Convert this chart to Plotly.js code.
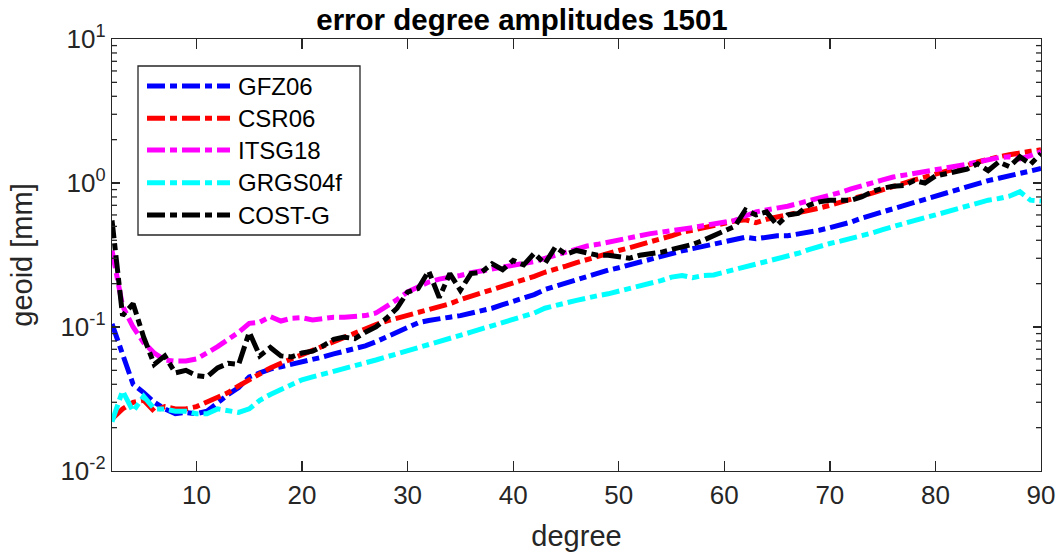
<!DOCTYPE html>
<html>
<head>
<meta charset="utf-8">
<script src="https://cdn.plot.ly/plotly-3.0.1.min.js"></script>
<style>html,body{margin:0;padding:0;background:#fff;}#chart{width:1056px;height:556px;}</style>
</head>
<body>
<div id="chart"></div>
<script>
const degrees = [2,3,4,5,6,7,8,9,10,11,12,13,14,15,16,17,18,19,20,21,22,23,24,25,26,27,28,29,30,31,32,33,34,35,36,37,38,39,40,41,42,43,44,45,46,47,48,49,50,51,52,53,54,55,56,57,58,59,60,61,62,63,64,65,66,67,68,69,70,71,72,73,74,75,76,77,78,79,80,81,82,83,84,85,86,87,88,89,90];

const GFZ06 = [0.105,0.066,0.040,0.035,0.030,0.027,0.025,0.0255,0.025,0.026,
  0.030,0.034,0.038,0.045,0.048,0.051,0.053,0.055,0.057,0.059,
  0.062,0.065,0.068,0.070,0.074,0.079,0.085,0.092,0.100,0.107,
  0.111,0.115,0.117,0.120,0.124,0.129,0.135,0.143,0.150,0.158,
  0.168,0.182,0.192,0.200,0.212,0.225,0.235,0.248,0.258,0.270,
  0.285,0.300,0.310,0.322,0.338,0.350,0.362,0.378,0.390,0.400,
  0.420,0.410,0.420,0.430,0.430,0.440,0.455,0.470,0.490,0.510,
  0.535,0.570,0.600,0.635,0.665,0.700,0.735,0.770,0.810,0.860,
  0.910,0.950,0.990,1.040,1.080,1.120,1.180,1.220,1.260];

const CSR06 = [0.023,0.027,0.030,0.031,0.026,0.028,0.027,0.027,0.028,0.030,
  0.032,0.035,0.039,0.043,0.047,0.052,0.056,0.060,0.064,0.068,
  0.073,0.079,0.085,0.090,0.098,0.104,0.110,0.115,0.120,0.125,
  0.130,0.137,0.145,0.155,0.163,0.172,0.182,0.192,0.203,0.213,
  0.225,0.240,0.250,0.265,0.280,0.295,0.310,0.325,0.340,0.355,
  0.375,0.395,0.410,0.430,0.455,0.470,0.490,0.510,0.525,0.545,
  0.555,0.530,0.560,0.580,0.595,0.615,0.640,0.670,0.700,0.730,
  0.770,0.810,0.850,0.900,0.950,1.000,1.050,1.100,1.150,1.200,
  1.260,1.320,1.400,1.470,1.520,1.570,1.630,1.660,1.700];

const ITSG18 = [0.340,0.140,0.100,0.078,0.066,0.059,0.058,0.058,0.060,0.066,
  0.073,0.082,0.092,0.106,0.108,0.118,0.110,0.115,0.116,0.112,
  0.115,0.117,0.117,0.118,0.120,0.125,0.138,0.155,0.175,0.190,
  0.205,0.215,0.220,0.228,0.238,0.245,0.252,0.258,0.265,0.275,
  0.285,0.300,0.315,0.330,0.345,0.365,0.375,0.390,0.400,0.415,
  0.430,0.445,0.455,0.465,0.470,0.490,0.505,0.520,0.535,0.550,
  0.590,0.630,0.650,0.665,0.690,0.720,0.750,0.790,0.820,0.860,
  0.910,0.960,1.000,1.050,1.100,1.130,1.170,1.200,1.240,1.270,
  1.300,1.350,1.400,1.450,1.500,1.520,1.470,1.550,1.650];

const GRGS04f = [0.022,0.036,0.026,0.033,0.027,0.027,0.026,0.026,0.025,0.025,
  0.027,0.026,0.0255,0.027,0.031,0.034,0.037,0.040,0.043,0.045,
  0.047,0.049,0.051,0.053,0.056,0.059,0.062,0.065,0.068,0.072,
  0.075,0.079,0.083,0.087,0.092,0.097,0.102,0.107,0.112,0.118,
  0.125,0.135,0.142,0.147,0.153,0.160,0.165,0.170,0.177,0.185,
  0.193,0.200,0.210,0.222,0.228,0.220,0.228,0.230,0.240,0.250,
  0.260,0.270,0.283,0.295,0.310,0.325,0.345,0.365,0.380,0.395,
  0.410,0.430,0.450,0.475,0.500,0.520,0.545,0.575,0.600,0.630,
  0.660,0.690,0.720,0.760,0.780,0.810,0.870,0.760,0.750];

const COSTG = [0.550,0.120,0.145,0.085,0.055,0.063,0.048,0.050,0.046,0.045,
  0.052,0.056,0.055,0.092,0.063,0.072,0.063,0.062,0.066,0.068,
  0.074,0.082,0.085,0.083,0.092,0.100,0.115,0.135,0.175,0.185,
  0.245,0.160,0.235,0.180,0.235,0.240,0.275,0.250,0.290,0.270,
  0.325,0.275,0.360,0.320,0.340,0.330,0.315,0.315,0.310,0.300,
  0.315,0.320,0.330,0.345,0.360,0.375,0.400,0.430,0.470,0.500,
  0.650,0.600,0.630,0.510,0.600,0.615,0.700,0.740,0.760,0.760,
  0.760,0.800,0.870,0.920,0.950,0.960,1.040,1.000,1.120,1.160,
  1.200,1.250,1.360,1.220,1.400,1.300,1.520,1.350,1.600];

const seriesNames = ["GFZ06","CSR06","ITSG18","GRGS04f","COST-G"];
const seriesData = [GFZ06, CSR06, ITSG18, GRGS04f, COSTG];
const seriesColors = ["#0000ff","#ff0000","#ff00ff","#00ffff","#000000"];

const yTickVals = [0.01, 0.1, 1, 10];
const yTickText = ["10<sup>-2</sup>","10<sup>-1</sup>","10<sup>0</sup>","10<sup>1</sup>"];
const yMinorVals = [0.02,0.03,0.04,0.05,0.06,0.07,0.08,0.09,0.2,0.3,0.4,0.5,0.6,0.7,0.8,0.9,2,3,4,5,6,7,8,9];
const xTickVals = [10,20,30,40,50,60,70,80,90];

const FONT = "Liberation Sans, Arial, Helvetica, sans-serif";
const DASH = "18px,5px,7px,5px";
const LW = 5;
const AXC = "#262626";

const traces = seriesNames.map((n,i)=>({
  x: degrees, y: seriesData[i], name: n, type: "scatter", mode: "lines",
  line: {color: seriesColors[i], width: LW, dash: DASH},
  showlegend: false, hoverinfo: "skip"
}));

const L = 112, R = 1041, T = 39, B = 471;
const px2x = p => (p-L)/(R-L);
const py2y = p => (B-p)/(B-T);
const shapes = [];

// minor ticks on log y axis (left and right, inside)
const minorLen = 5/(R-L);
yMinorVals.forEach(v=>{
  shapes.push({type:"line", xref:"paper", yref:"y", x0:0, x1:minorLen, y0:v, y1:v, line:{color:AXC, width:1.3}});
  shapes.push({type:"line", xref:"paper", yref:"y", x0:1-minorLen, x1:1, y0:v, y1:v, line:{color:AXC, width:1.3}});
});

// custom legend (paper coordinates)
shapes.push({
  type:"rect", xref:"paper", yref:"paper",
  x0: px2x(138), x1: px2x(360), y0: py2y(235), y1: py2y(66),
  line:{color:AXC, width:1.3}, fillcolor:"#ffffff", layer:"above"
});
const annotations = [];
const rowY = [86, 118.3, 150, 182.7, 215];
seriesNames.forEach((n,i)=>{
  shapes.push({type:"line", xref:"paper", yref:"paper",
    x0: px2x(147), x1: px2x(230), y0: py2y(rowY[i]), y1: py2y(rowY[i]),
    line:{color: seriesColors[i], width: LW, dash: DASH}, layer:"above"});
  annotations.push({xref:"paper", yref:"paper", x: px2x(236), y: py2y(rowY[i]),
    xanchor:"left", yanchor:"middle", text: n, showarrow:false,
    font:{family:FONT, size:24, color:"#000000"}});
});

const layout = {
  width: 1056, height: 556,
  margin: {l: L, r: 1056-R, t: T, b: 556-B, pad: 0},
  paper_bgcolor: "#ffffff", plot_bgcolor: "#ffffff",
  font: {family: FONT, color: AXC},
  title: {text: "<b>error degree amplitudes 1501</b>", font:{family:FONT, size:29.5, color:"#000000"},
    x: px2x(522), xanchor:"center", xref:"paper", y: 0.965, yanchor:"middle"},
  xaxis: {
    range: [2, 90], tickmode: "array", tickvals: xTickVals,
    ticks: "inside", ticklen: 10, tickwidth: 1.3, tickcolor: AXC,
    showline: true, linecolor: AXC, linewidth: 1.3, mirror: "ticks",
    showgrid: false, zeroline: false,
    tickfont: {family: FONT, size: 26, color: AXC},
    title: {text: "degree", font: {family: FONT, size: 29, color: AXC}, standoff: 17}
  },
  yaxis: {
    type: "log", range: [-2, 1], tickmode: "array", tickvals: yTickVals, ticktext: yTickText,
    ticks: "inside", ticklen: 8, tickwidth: 1.3, tickcolor: AXC,
    showline: true, linecolor: AXC, linewidth: 1.3, mirror: "ticks",
    showgrid: false, zeroline: false,
    tickfont: {family: FONT, size: 26, color: AXC},
    title: {text: "geoid [mm]", font: {family: FONT, size: 29, color: AXC}, standoff: 19}
  },
  shapes: shapes,
  annotations: annotations,
  showlegend: false
};

Plotly.newPlot("chart", traces, layout, {staticPlot: true, displayModeBar: false});
</script>
</body>
</html>
